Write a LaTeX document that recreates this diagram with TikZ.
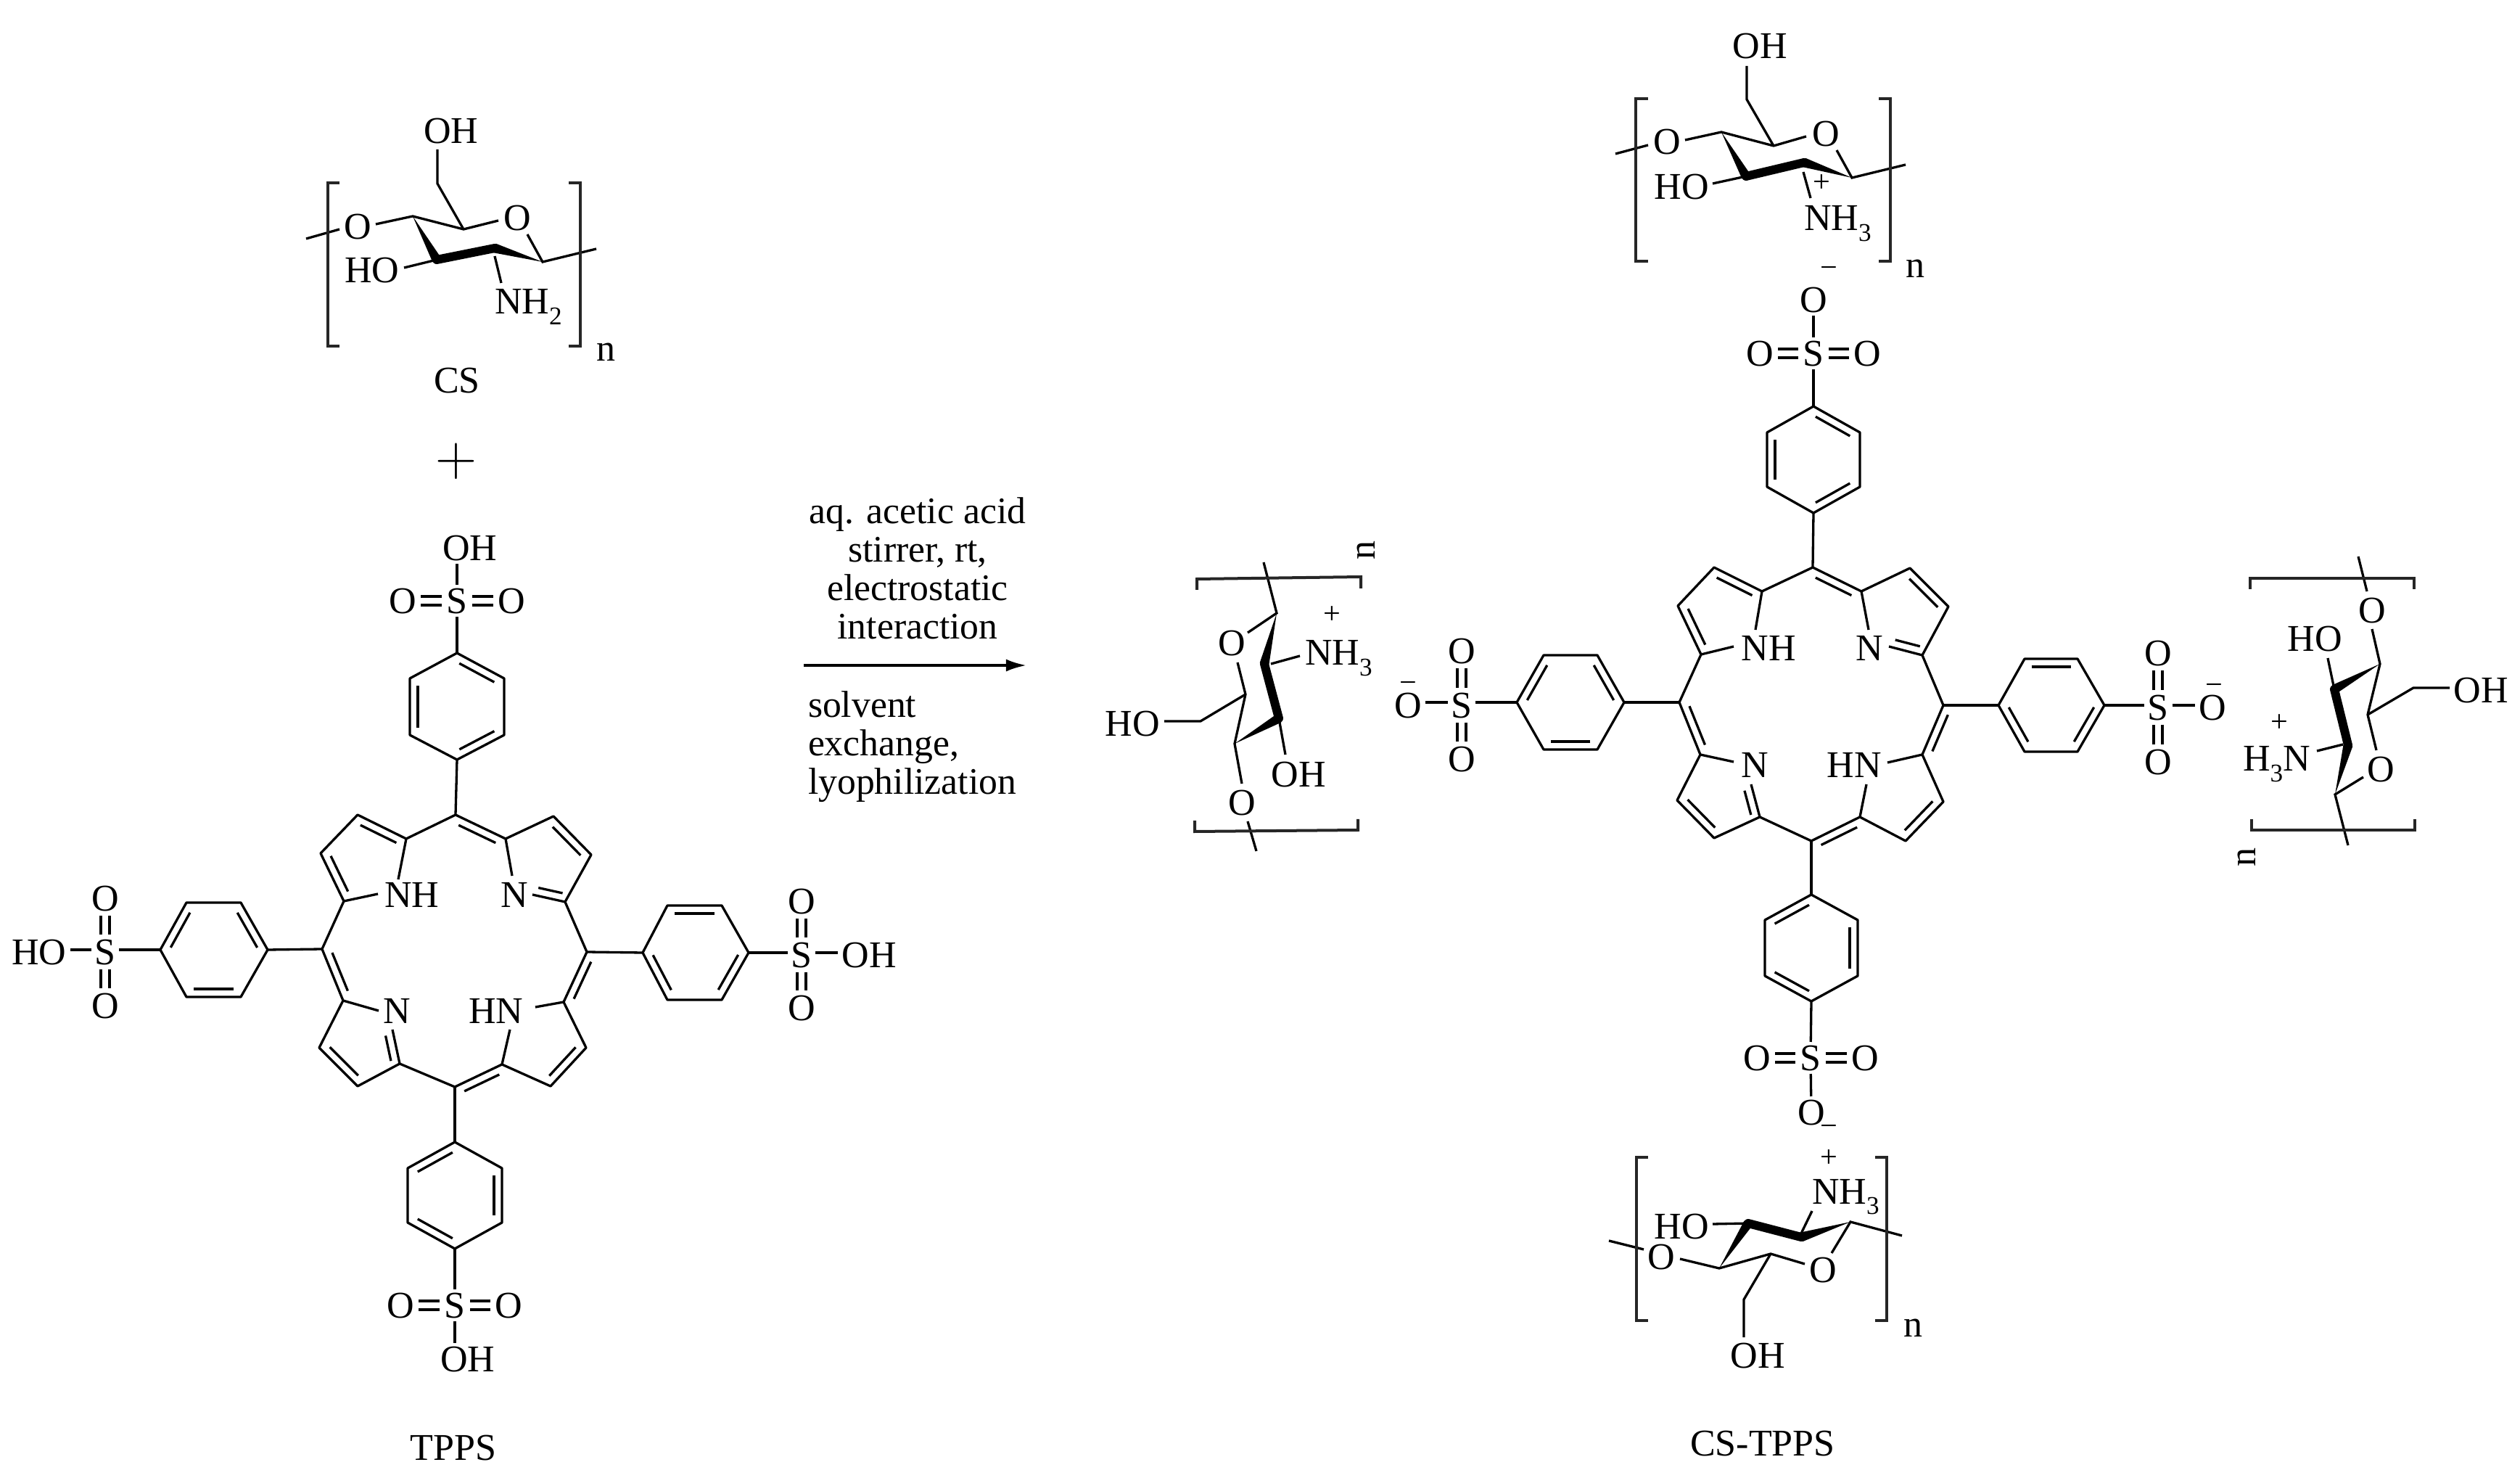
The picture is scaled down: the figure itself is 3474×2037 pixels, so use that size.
\documentclass[tikz,border=0pt]{standalone}
\usepackage{fontspec}
\setmainfont{Liberation Serif}
\newfontfamily\lmfont{Latin Modern Roman}
\usetikzlibrary{calc,arrows.meta}
\newcommand\dbl[3][.11cm]{\draw ($(#2)!.13!(#3)!#1!-90:(#3)$) -- ($(#3)!.13!(#2)!#1!90:(#2)$);}
\newcommand\wdg[2]{\fill (#1) -- ($(#2)!.065cm!90:(#1)$) -- ($(#2)!.065cm!-90:(#1)$) -- cycle;}
\newcommand\boldb[2]{\draw[line width=.12cm,line cap=round] (#1) -- (#2);}
\newcommand\subsc[1]{\raisebox{-.27em}{\fontsize{10}{10}\selectfont #1}}
% phenyl, apex up/down: name, cx, top y, upper y, lower y, bottom y, half width
\newcommand\vph[7]{%
  \coordinate (#1t) at (#2,#3); \coordinate (#1ur) at ({#2+#7},#4);
  \coordinate (#1lr) at ({#2+#7},#5); \coordinate (#1b) at (#2,#6);
  \coordinate (#1ll) at ({#2-#7},#5); \coordinate (#1ul) at ({#2-#7},#4);
  \draw[line join=round] (#1t)--(#1ur)--(#1lr)--(#1b)--(#1ll)--(#1ul)--cycle;}
% phenyl, apex left/right: name, cy, left x, inner left x, inner right x, right x, half height
\newcommand\hph[7]{%
  \coordinate (#1l) at (#3,#2); \coordinate (#1ul) at (#4,{#2-#7});
  \coordinate (#1ur) at (#5,{#2-#7}); \coordinate (#1r) at (#6,#2);
  \coordinate (#1lr) at (#5,{#2+#7}); \coordinate (#1ll) at (#4,{#2+#7});
  \draw[line join=round] (#1l)--(#1ul)--(#1ur)--(#1r)--(#1lr)--(#1ll)--cycle;}
\tikzset{
  atom/.style={inner sep=.05cm,outer sep=0pt,text height=.34cm,text depth=0pt,font=\fontsize{14.8}{15}\selectfont},
  lab/.style={inner sep=0pt,outer sep=0pt,font=\fontsize{14.8}{15}\selectfont},
  chg/.style={inner sep=0pt,outer sep=0pt,text height=.227cm,text depth=0pt,font=\fontsize{12}{12}\selectfont},
  dblb/.style={double=white,double distance=.087cm,line width=.033cm,shorten >=.015cm,shorten <=.015cm},
  brk/.style={line width=.04cm,line join=miter,color=black!85}
}
\begin{document}
\begin{tikzpicture}[x=.01cm,y=-.01cm,line width=.033cm]
\useasboundingbox (0,0) rectangle (3474,2037);

%% ---------- CS ----------
\coordinate (c1) at (748,361); \coordinate (c2) at (682,342); \coordinate (c3) at (602,358);
\coordinate (c4) at (569,298); \coordinate (c5) at (639,316); \coordinate (c6) at (603,253);
\node[atom] (csOH) at (622,180) {OH};
\node[atom] (csOr) at (713,300) {O};
\node[atom] (csOl) at (493,312) {O};
\node[atom] (csHO) at (513,372) {HO};
\node[lab,anchor=base west] (csN) at (682,433) {NH\subsc{2}};
\draw (603,206) -- (c6) -- (c5);
\draw (518,309) -- (c4) -- (c5) -- (687,304);
\draw (727,323) -- (c1) -- (822,343);
\draw (422,329) -- (468,316);
\draw (557,369) -- (c3);
\draw (682,353) -- (691,390);
\wdg{c4}{c3} \boldb{c3}{c2} \wdg{c1}{c2}
\draw[brk] (468,252) -- (452,252) -- (452,477) -- (468,477);
\draw[brk] (784,252) -- (800,252) -- (800,477) -- (784,477);
\node[lab] (csn) at (836,485) {n};
\node[lab] (csName) at (630,525) {CS};
\node[lab,font=\lmfont\fontsize{22.5}{23}\selectfont] (plus) at (629,636) {+};

%% ---------- TPPS ----------
\coordinate (aT) at (628,1123); \coordinate (aR) at (809,1312); \coordinate (aB) at (627,1498); \coordinate (aL) at (444,1308);
\coordinate (aNWa) at (560,1156); \coordinate (aNWb) at (493,1123); \coordinate (aNWc) at (442,1176); \coordinate (aNWd) at (474,1242);
\coordinate (aNEa) at (697,1156); \coordinate (aNEb) at (763,1125); \coordinate (aNEc) at (815,1178); \coordinate (aNEd) at (779,1243);
\coordinate (aSEa) at (777,1381); \coordinate (aSEb) at (808,1444); \coordinate (aSEc) at (759,1497); \coordinate (aSEd) at (692,1467);
\coordinate (aSWa) at (473,1379); \coordinate (aSWb) at (440,1444); \coordinate (aSWc) at (493,1497); \coordinate (aSWd) at (551,1466);
\coordinate (aNEn) at (734,1233); \coordinate (aSWn) at (541,1419);
\node[atom,inner sep=0pt] (aNH) at (568,1233) {NH};
\node[atom,inner sep=0pt] (aN1) at (709,1233) {N};
\node[atom,inner sep=0pt] (aN2) at (547,1393) {N};
\node[atom,inner sep=0pt] (aHN) at (684,1393) {HN};
\draw[line join=round] (aNWa) -- (aT) -- (aNEa);
\draw[line join=round] (549,1212) -- (aNWa) -- (aNWb) -- (aNWc) -- (aNWd) -- (521,1232);
\draw[line join=round] (706,1207) -- (aNEa) -- (aNEb) -- (aNEc) -- (aNEd) -- (aNEn);
\draw[line join=round] (738,1388) -- (aSEa) -- (aSEb) -- (aSEc) -- (aSEd) -- (703,1419);
\draw[line join=round] (522,1393) -- (aSWa) -- (aSWb) -- (aSWc) -- (aSWd) -- (aSWn);
\draw[line join=round] (aNWd) -- (aL) -- (aSWa);
\draw[line join=round] (aNEd) -- (aR) -- (aSEa);
\draw[line join=round] (aSWd) -- (aB) -- (aSEd);
\dbl{aNWb}{aNWa} \dbl{aNWd}{aNWc} \dbl{aNEb}{aNEc} \dbl{aNEd}{aNEn} \dbl{aT}{aNEa}
\dbl{aSEa}{aR} \dbl{aSEb}{aSEc} \dbl{aB}{aSEd} \dbl{aSWc}{aSWb} \dbl{aSWn}{aSWd} \dbl{aSWa}{aL}
% top phenyl
\vph{aP}{630}{900}{935}{1013}{1047}{65}
\draw (aT) -- (aPb);
\dbl{aPt}{aPur} \dbl{aPlr}{aPb} \dbl{aPll}{aPul}
\node[atom] (aS1) at (630,828) {S};
\node[atom] (aO1l) at (555,828) {O};
\node[atom] (aO1r) at (705,828) {O};
\node[atom] (aOH1) at (648,755) {OH};
\draw (aPt) -- (aS1);
\draw[dblb] (aS1) -- (aO1l); \draw[dblb] (aS1) -- (aO1r);
\draw (aS1) -- (aS1 |- aOH1.south);
% left phenyl
\hph{aQ}{1309}{221}{257}{332}{369}{65}
\draw (aL) -- (aQr);
\dbl{aQl}{aQul} \dbl{aQur}{aQr} \dbl{aQlr}{aQll}
\node[atom] (aS2) at (145,1312) {S};
\node[atom] (aO2t) at (145,1238) {O};
\node[atom] (aO2b) at (145,1386) {O};
\node[atom] (aHO2) at (54,1312) {HO};
\draw (aQl) -- (aQl -| aS2.east);
\draw (aS2.west |- aQl) -- (aHO2.east |- aQl);
\draw[dblb] (aS2) -- (aO2t); \draw[dblb] (aS2) -- (aO2b);
% right phenyl
\hph{aU}{1313}{886}{920}{995}{1032}{65}
\draw (aR) -- (aUl);
\dbl{aUul}{aUur} \dbl{aUr}{aUlr} \dbl{aUll}{aUl}
\node[atom] (aS3) at (1105,1316) {S};
\node[atom] (aO3t) at (1105,1242) {O};
\node[atom] (aO3b) at (1105,1389) {O};
\node[atom] (aOH3) at (1198,1316) {OH};
\draw (aUr) -- (aUr -| aS3.west);
\draw (aS3.east |- aUr) -- (aOH3.west |- aUr);
\draw[dblb] (aS3) -- (aO3t); \draw[dblb] (aS3) -- (aO3b);
% bottom phenyl
\vph{aV}{627}{1574}{1610}{1685}{1721}{65}
\draw (aB) -- (aVt);
\dbl{aVul}{aVt} \dbl{aVur}{aVlr} \dbl{aVb}{aVll}
\node[atom] (aS4) at (627,1799) {S};
\node[atom] (aO4l) at (552,1799) {O};
\node[atom] (aO4r) at (701,1799) {O};
\node[atom] (aOH4) at (645,1873) {OH};
\draw (aVb) -- (aS4);
\draw[dblb] (aS4) -- (aO4l); \draw[dblb] (aS4) -- (aO4r);
\draw (aS4) -- (aS4 |- aOH4.north);
\node[lab] (tppsName) at (625,1996) {TPPS};

%% ---------- reaction ----------
\node[lab,align=center,font=\fontsize{14.7}{15.08}\selectfont] (cond1) at (1265,783) {aq. acetic acid\\stirrer, rt,\\electrostatic\\interaction};
\coordinate (arrS) at (1108,917); \coordinate (arrE) at (1415,917);
\draw[line width=.035cm,-{Latex[length=.28cm,width=.17cm]}] (arrS) -- (arrE);
\node[lab,align=left,anchor=west,font=\fontsize{14.7}{15.08}\selectfont] (cond2) at (1114,1029) {solvent\\exchange,\\lyophilization};

%% ---------- left rotated CS ----------
\coordinate (d1) at (1760,845); \coordinate (d2) at (1743,915); \coordinate (d3) at (1763,990);
\coordinate (d4) at (1702,1025); \coordinate (d5) at (1717,957); \coordinate (d6) at (1655,994);
\node[atom] (dO1) at (1698,886) {O};
\node[atom] (dO2) at (1712,1106) {O};
\node[atom] (dHO) at (1561,997) {HO};
\node[atom] (dOH) at (1790,1067) {OH};
\node[lab,anchor=base west] (dN) at (1799,917) {NH\subsc{3}};
\node[chg] (dP) at (1836,848) {+};
\draw (1742,775) -- (d1) -- (1720,872);
\draw (1706,913) -- (d5) -- (d4) -- (1712,1080);
\draw (d5) -- (d6) -- (1605,994);
\draw (1752,915) -- (1792,904);
\draw (d3) -- (1772,1040);
\draw (1720,1132) -- (1732,1173);
\wdg{d1}{d2} \boldb{d2}{d3} \wdg{d4}{d3}
\draw[brk] (1650,813) -- (1650,798) -- (1876,795) -- (1876,811);
\draw[brk] (1647,1131) -- (1647,1146) -- (1872,1144) -- (1872,1129);
\node[lab,rotate=90] (dn) at (1883,758) {n};

%% ---------- right rotated CS ----------
\coordinate (e1) at (3219,1095); \coordinate (e2) at (3237,1027); \coordinate (e3) at (3218,950);
\coordinate (e4) at (3281,915); \coordinate (e5) at (3264,985); \coordinate (e6) at (3327,948);
\node[atom] (eO1) at (3270,841) {O};
\node[atom] (eO2) at (3282,1060) {O};
\node[atom] (eHO) at (3191,880) {HO};
\node[atom] (eOH) at (3420,951) {OH};
\node[lab,anchor=base west] (eN) at (3092,1063) {H\subsc{3}N};
\node[chg] (eP) at (3142,997) {+};
\draw (3251,767) -- (3263,815);
\draw (3270,867) -- (e4) -- (e5) -- (3276,1034);
\draw (e5) -- (e6) -- (3377,948);
\draw (3258,1071) -- (e1) -- (3237,1165);
\draw (3209,907) -- (e3);
\draw (3194,1035) -- (3230,1026);
\wdg{e4}{e3} \boldb{e3}{e2} \wdg{e1}{e2}
\draw[brk] (3102,812) -- (3102,797) -- (3328,797) -- (3328,812);
\draw[brk] (3104,1129) -- (3104,1144) -- (3329,1144) -- (3329,1129);
\node[lab,rotate=90] (en) at (3097,1181) {n};

%% ---------- CS-TPPS core ----------
\coordinate (bT) at (2499,782); \coordinate (bR) at (2679,972); \coordinate (bB) at (2497,1159); \coordinate (bL) at (2315,968);
\coordinate (bNWa) at (2429,815); \coordinate (bNWb) at (2363,782); \coordinate (bNWc) at (2313,835); \coordinate (bNWd) at (2345,902);
\coordinate (bNEa) at (2566,815); \coordinate (bNEb) at (2633,783); \coordinate (bNEc) at (2686,836); \coordinate (bNEd) at (2650,903);
\coordinate (bSEa) at (2650,1040); \coordinate (bSEb) at (2679,1105); \coordinate (bSEc) at (2627,1159); \coordinate (bSEd) at (2564,1126);
\coordinate (bSWa) at (2344,1040); \coordinate (bSWb) at (2312,1103); \coordinate (bSWc) at (2363,1155); \coordinate (bSWd) at (2426,1126);
\coordinate (bNEn) at (2604,891); \coordinate (bSWn) at (2414,1081);
\node[atom,inner sep=0pt] (bNH) at (2438,893) {NH};
\node[atom,inner sep=0pt] (bN1) at (2577,893) {N};
\node[atom,inner sep=0pt] (bN2) at (2419,1054) {N};
\node[atom,inner sep=0pt] (bHN) at (2556,1054) {HN};
\draw[line join=round] (bNWa) -- (bT) -- (bNEa);
\draw[line join=round] (2420,868) -- (bNWa) -- (bNWb) -- (bNWc) -- (bNWd) -- (2390,891);
\draw[line join=round] (2576,868) -- (bNEa) -- (bNEb) -- (bNEc) -- (bNEd) -- (bNEn);
\draw[line join=round] (2602,1051) -- (bSEa) -- (bSEb) -- (bSEc) -- (bSEd) -- (2573,1081);
\draw[line join=round] (2390,1050) -- (bSWa) -- (bSWb) -- (bSWc) -- (bSWd) -- (bSWn);
\draw[line join=round] (bNWd) -- (bL) -- (bSWa);
\draw[line join=round] (bNEd) -- (bR) -- (bSEa);
\draw[line join=round] (bSWd) -- (bB) -- (bSEd);
\dbl{bNWb}{bNWa} \dbl{bNWd}{bNWc} \dbl{bNEb}{bNEc} \dbl{bNEd}{bNEn} \dbl{bT}{bNEa}
\dbl{bSEa}{bR} \dbl{bSEb}{bSEc} \dbl{bB}{bSEd} \dbl{bSWc}{bSWb} \dbl{bSWn}{bSWd} \dbl{bSWa}{bL}
% top phenyl
\vph{bP}{2500}{560}{596}{671}{707}{64}
\draw (bT) -- (bPb);
\dbl{bPt}{bPur} \dbl{bPlr}{bPb} \dbl{bPll}{bPul}
\node[atom] (bS1) at (2500,487) {S};
\node[atom] (bO1l) at (2426,487) {O};
\node[atom] (bO1r) at (2574,487) {O};
\node[atom] (bO1t) at (2500,413) {O};
\node[chg] (bM1) at (2521,371) {\char"2212};
\draw (bPt) -- (bS1);
\draw[dblb] (bS1) -- (bO1l); \draw[dblb] (bS1) -- (bO1r);
\draw (bS1) -- (bO1t);
% left phenyl
\hph{bQ}{968}{2091}{2128}{2202}{2239}{65}
\draw (bL) -- (bQr);
\dbl{bQl}{bQul} \dbl{bQur}{bQr} \dbl{bQlr}{bQll}
\node[atom] (bS2) at (2015,972) {S};
\node[atom] (bO2t) at (2015,897) {O};
\node[atom] (bO2b) at (2015,1046) {O};
\node[atom] (bO2l) at (1941,972) {O};
\node[chg] (bM2) at (1941,943) {\char"2212};
\draw (bQl) -- (bQl -| bS2.east);
\draw (bS2.west |- bQl) -- (bO2l.east |- bQl);
\draw[dblb] (bS2) -- (bO2t); \draw[dblb] (bS2) -- (bO2b);
% right phenyl
\hph{bU}{972}{2755}{2791}{2864}{2901}{64}
\draw (bR) -- (bUl);
\dbl{bUul}{bUur} \dbl{bUr}{bUlr} \dbl{bUll}{bUl}
\node[atom] (bS3) at (2975,975) {S};
\node[atom] (bO3t) at (2975,900) {O};
\node[atom] (bO3b) at (2975,1050) {O};
\node[atom] (bO3r) at (3050,975) {O};
\node[chg] (bM3) at (3052,946) {\char"2212};
\draw (bUr) -- (bUr -| bS3.west);
\draw (bS3.east |- bUr) -- (bO3r.west |- bUr);
\draw[dblb] (bS3) -- (bO3t); \draw[dblb] (bS3) -- (bO3b);
% bottom phenyl
\vph{bV}{2497}{1233}{1268}{1345}{1380}{64}
\draw (bB) -- (bVt);
\dbl{bVul}{bVt} \dbl{bVur}{bVlr} \dbl{bVb}{bVll}
\node[atom] (bS4) at (2496,1458) {S};
\node[atom] (bO4l) at (2422,1458) {O};
\node[atom] (bO4r) at (2571,1458) {O};
\node[atom] (bO4b) at (2497,1533) {O};
\node[chg] (bM4) at (2521,1554) {\char"2212};
\draw (bVb) -- (bS4);
\draw[dblb] (bS4) -- (bO4l); \draw[dblb] (bS4) -- (bO4r);
\draw (bS4) -- (bO4b);
\node[lab] (cstppsName) at (2430,1990) {CS-TPPS};

%% ---------- top CS ----------
\coordinate (f1) at (2553,245); \coordinate (f2) at (2487,224); \coordinate (f3) at (2407,243);
\coordinate (f4) at (2373,182); \coordinate (f5) at (2445,201); \coordinate (f6) at (2408,137);
\node[atom] (fOH) at (2426,64) {OH};
\node[atom] (fOr) at (2517,184) {O};
\node[atom] (fOl) at (2298,195) {O};
\node[atom] (fHO) at (2318,257) {HO};
\node[lab,anchor=base west] (fN) at (2487,318) {NH\subsc{3}};
\node[chg] (fP) at (2511,253) {+};
\draw (2408,91) -- (f6) -- (f5);
\draw (2323,193) -- (f4) -- (f5) -- (2490,188);
\draw (2532,207) -- (f1) -- (2627,227);
\draw (2227,212) -- (2272,200);
\draw (2361,253) -- (f3);
\draw (2486,237) -- (2496,273);
\wdg{f4}{f3} \boldb{f3}{f2} \wdg{f1}{f2}
\draw[brk] (2272,136) -- (2255,136) -- (2255,360) -- (2272,360);
\draw[brk] (2590,136) -- (2606,136) -- (2606,360) -- (2590,360);
\node[lab] (fn) at (2640,370) {n};

%% ---------- bottom CS ----------
\coordinate (g1) at (2551,1684); \coordinate (g2) at (2483,1705); \coordinate (g3) at (2410,1686);
\coordinate (g4) at (2370,1748); \coordinate (g5) at (2441,1728); \coordinate (g6) at (2404,1791);
\node[atom] (gOH) at (2423,1868) {OH};
\node[atom] (gOr) at (2513,1750) {O};
\node[atom] (gOl) at (2290,1732) {O};
\node[atom] (gHO) at (2318,1690) {HO};
\node[lab,anchor=base west] (gN) at (2498,1659) {NH\subsc{3}};
\node[chg] (gP) at (2521,1597) {+};
\draw (2404,1843) -- (g6) -- (g5);
\draw (2316,1735) -- (g4) -- (g5) -- (2488,1742);
\draw (2525,1727) -- (g1) -- (2622,1703);
\draw (2218,1710) -- (2266,1722);
\draw (2361,1687) -- (g3);
\draw (2483,1700) -- (2498,1669);
\wdg{g4}{g3} \boldb{g3}{g2} \wdg{g1}{g2}
\draw[brk] (2272,1595) -- (2256,1595) -- (2256,1820) -- (2272,1820);
\draw[brk] (2585,1595) -- (2601,1595) -- (2601,1820) -- (2585,1820);
\node[lab] (gn) at (2637,1830) {n};
\end{tikzpicture}
\end{document}
